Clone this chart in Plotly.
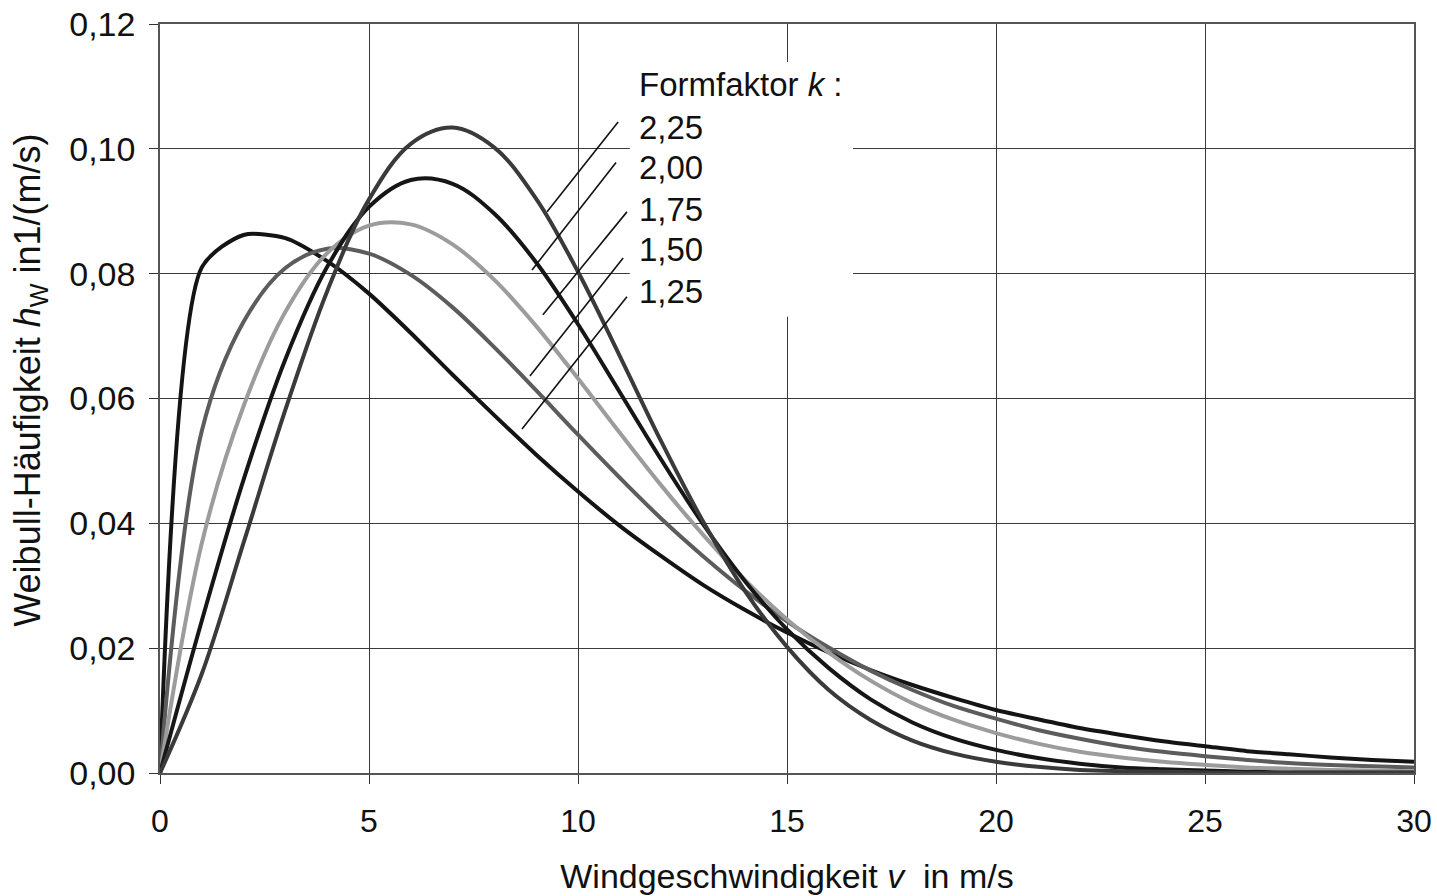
import plotly.graph_objects as go

# Wind speed (m/s)
v = list(range(0, 31))

# Weibull frequency h_W in 1/(m/s), per shape factor k
h_k125 = [0, 0.0810, 0.0862, 0.0857, 0.0820, 0.0768, 0.0705, 0.0638, 0.0573, 0.0510,
          0.0451, 0.0396, 0.0347, 0.0301, 0.0261, 0.0225, 0.0193, 0.0165, 0.0141, 0.0120,
          0.0101, 0.0086, 0.0072, 0.0061, 0.0051, 0.0043, 0.0035, 0.0030, 0.0025, 0.0021, 0.0018]
h_k150 = [0, 0.0548, 0.0723, 0.0809, 0.0840, 0.0832, 0.0798, 0.0746, 0.0682, 0.0613,
          0.0542, 0.0473, 0.0407, 0.0347, 0.0292, 0.0243, 0.0201, 0.0164, 0.0133, 0.0107,
          0.0087, 0.0069, 0.0055, 0.0043, 0.0034, 0.0027, 0.0021, 0.0016, 0.0013, 0.0011, 0.0009]
h_k175 = [0, 0.0368, 0.0588, 0.0739, 0.0833, 0.0877, 0.0879, 0.0847, 0.0790, 0.0716,
          0.0632, 0.0545, 0.0460, 0.0381, 0.0309, 0.0246, 0.0193, 0.0148, 0.0112, 0.0085,
          0.0064, 0.0047, 0.0034, 0.0025, 0.0018, 0.0013, 0.0009, 0.0007, 0.0005, 0.0004, 0.0003]
h_k200 = [0, 0.0244, 0.0470, 0.0663, 0.0811, 0.0907, 0.0950, 0.0944, 0.0896, 0.0818,
          0.0719, 0.0610, 0.0501, 0.0398, 0.0307, 0.0230, 0.0168, 0.0118, 0.0081, 0.0055,
          0.0037, 0.0024, 0.0015, 0.0009, 0.0006, 0.0004, 0.0002, 0.0001, 0.0001, 0.0001, 0.0001]
h_k225 = [0, 0.0159, 0.0369, 0.0582, 0.0772, 0.0919, 0.1008, 0.1034, 0.1002, 0.0920,
          0.0803, 0.0668, 0.0530, 0.0402, 0.0291, 0.0202, 0.0133, 0.0085, 0.0052, 0.0031,
          0.0018, 0.0010, 0.0005, 0.0003, 0.0002, 0.0001, 0.0000, 0.0000, 0.0000, 0.0000, 0.0000]

k_labels = ["2,25", "2,00", "1,75", "1,50", "1,25"]
series = [h_k125, h_k150, h_k175, h_k200, h_k225]
series_names = ["1,25", "1,50", "1,75", "2,00", "2,25"]
colors = ["#141414", "#5c5c5c", "#9c9c9c", "#161616", "#3a3a3a"]
smooth = [0.7, 1.0, 1.0, 1.0, 1.0]

FONT = "Liberation Sans, Arial, Helvetica, sans-serif"

fig = go.Figure()
for ys, name, col, sm in zip(series, series_names, colors, smooth):
    fig.add_trace(go.Scatter(
        x=v, y=ys, mode="lines", name=name,
        line=dict(color=col, width=4, shape="spline", smoothing=sm),
        showlegend=False, hoverinfo="skip"))

# white box behind the label block (covers grid lines)
fig.add_shape(type="rect", xref="x", yref="y", x0=11.24, x1=16.58, y0=0.0731, y1=0.1139,
              fillcolor="white", line=dict(width=0), layer="between")

# leader lines from curves to labels (label order top -> bottom: 2,25 ... 1,25)
leaders = [
    (9.26, 0.0899, 10.96, 0.1043),
    (8.90, 0.0806, 10.91, 0.0978),
    (9.16, 0.0734, 11.17, 0.0899),
    (8.85, 0.0636, 11.08, 0.0825),
    (8.66, 0.0551, 11.17, 0.0763),
]
for x0, y0, x1, y1 in leaders:
    fig.add_shape(type="line", xref="x", yref="y", x0=x0, y0=y0, x1=x1, y1=y1,
                  line=dict(color="#111111", width=1.6), layer="above")

# label block
fig.add_annotation(x=11.41, y=0.1103, xref="x", yref="y", text="Formfaktor <i>k</i> :",
                   showarrow=False, xanchor="left", yanchor="middle",
                   font=dict(family=FONT, size=33, color="#111111"))
label_y = [0.1034, 0.0970, 0.0903, 0.0838, 0.0772]
for txt, yy in zip(k_labels, label_y):
    fig.add_annotation(x=11.41, y=yy, xref="x", yref="y", text=txt,
                       showarrow=False, xanchor="left", yanchor="middle",
                       font=dict(family=FONT, size=33, color="#111111"))

# y-axis title
fig.add_annotation(x=-0.1037, y=0.525, xref="paper", yref="paper",
                   text="Weibull-Häufigkeit <i>h</i><sub>W</sub> in1/(m/s)",
                   textangle=-90, showarrow=False, xanchor="center", yanchor="middle",
                   font=dict(family=FONT, size=36, color="#111111"))

fig.update_layout(
    width=1437, height=896,
    margin=dict(l=160, r=23, t=24, b=123, autoexpand=False),
    paper_bgcolor="white", plot_bgcolor="white",
    separators=",.",
    font=dict(family=FONT, size=32, color="#111111"),
)
fig.update_xaxes(
    range=[0, 30], tickmode="linear", tick0=0, dtick=5,
    showgrid=True, gridcolor="#3a3a3a", gridwidth=1.2,
    showline=True, linecolor="#555555", linewidth=1.5, mirror=True,
    ticks="outside", ticklen=9, tickcolor="#333333", tickwidth=1.2,
    ticklabelstandoff=10, automargin=False,
    zeroline=False,
    tickfont=dict(family=FONT, size=32),
    title=dict(text="Windgeschwindigkeit <i>v</i>  in m/s",
               font=dict(family=FONT, size=34), standoff=26),
)
fig.update_yaxes(
    range=[0, 0.12], tickmode="linear", tick0=0, dtick=0.02, tickformat=".2f",
    showgrid=True, gridcolor="#3a3a3a", gridwidth=1.2,
    showline=True, linecolor="#555555", linewidth=1.5, mirror=True,
    ticks="outside", ticklen=9, tickcolor="#333333", tickwidth=1.2,
    ticklabelstandoff=7, automargin=False,
    zeroline=False,
    tickfont=dict(family=FONT, size=34),
)

fig.write_html("out.html")
